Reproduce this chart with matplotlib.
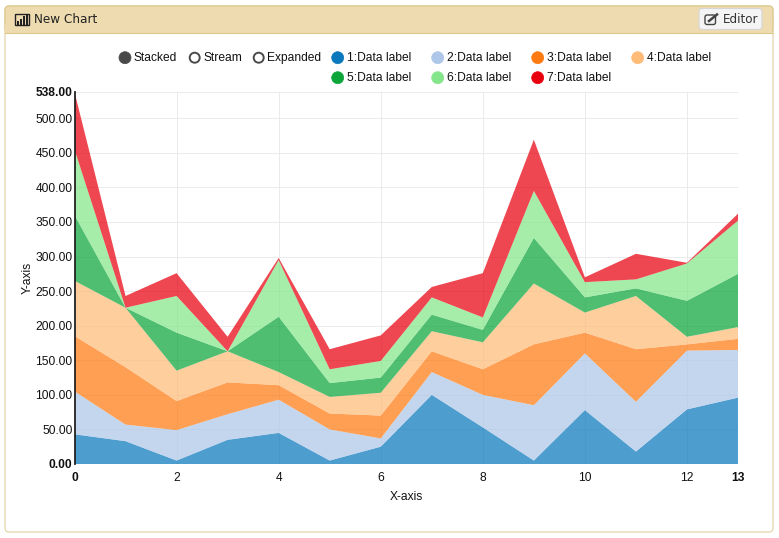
import matplotlib
matplotlib.use('Agg')
from matplotlib import pyplot as plt
from matplotlib.patches import Circle, FancyBboxPatch, Rectangle

W, H = 779, 538
PX = 0.72  # css px to pt at dpi 100

x_values = list(range(14))
series_1 = [43, 33, 5, 35, 45, 5, 25, 100, 53, 5, 78, 18, 79, 96]
series_2 = [62, 24, 44, 37, 48, 45, 12, 33, 47, 80, 82, 72, 85, 69]
series_3 = [80, 83, 42, 46, 21, 23, 33, 30, 37, 88, 30, 76, 9, 16]
series_4 = [80, 86, 44, 45, 19, 24, 33, 29, 39, 88, 29, 77, 11, 17]
series_5 = [95, 0, 55, 0, 80, 20, 22, 24, 18, 66, 22, 11, 52, 77]
series_6 = [95, 0, 53, 0, 82, 20, 24, 25, 18, 68, 22, 13, 54, 77]
series_7 = [83, 17, 33, 21, 3, 29, 37, 15, 64, 74, 7, 37, 1, 10]

labels = ['1:Data label', '2:Data label', '3:Data label', '4:Data label',
          '5:Data label', '6:Data label', '7:Data label']
colors = ['#0a78bd', '#aec7e8', '#ff7a10', '#ffbb78', '#0ca53a', '#84e68a', '#e8000f']
modes = ['Stacked', 'Stream', 'Expanded']

y_ticks = [0, 50, 100, 150, 200, 250, 300, 350, 400, 450, 500, 538]
x_ticks = [0, 2, 4, 6, 8, 10, 12, 13]
bold_y = [0, 538]
bold_x = [0, 13]

plt.rcParams['font.family'] = ['Liberation Sans', 'DejaVu Sans']
fig = plt.figure(figsize=(W / 100, H / 100), dpi=100, facecolor='white')

# page furniture, drawn in pixel coordinates
bg = fig.add_axes([0, 0, 1, 1], zorder=0)
bg.set_xlim(0, W)
bg.set_ylim(H, 0)
bg.axis('off')
bg.add_patch(FancyBboxPatch((5, 6), 768, 526, boxstyle='round,pad=0,rounding_size=4',
                            fc='white', ec='#ded2a2', lw=0.8))
bg.add_patch(FancyBboxPatch((5, 6), 768, 27, boxstyle='round,pad=0,rounding_size=4',
                            fc='#eedbb0', ec='#dcc888', lw=0.8))
bg.add_patch(Rectangle((5.5, 24), 767, 8.5, fc='#eedbb0', ec='none'))
bg.plot([5, 773], [32.5, 32.5], color='#dcc888', lw=0.8)

# chart icon
bg.add_patch(Rectangle((15.5, 14), 14, 10.5, fc='none', ec='#222222', lw=1.0))
for bx, bt in [(18, 20.5), (21, 18.5), (24, 16), (27, 15)]:
    bg.add_patch(Rectangle((bx - 0.5, bt), 1.6, 24.5 - bt, fc='#222222', ec='none'))
bg.text(34, 19.5, 'New Chart', fontsize=12 * PX, family='DejaVu Sans', color='#222222',
        ha='left', va='center')

# editor button
bg.add_patch(FancyBboxPatch((699, 8.5), 63, 21, boxstyle='round,pad=0,rounding_size=3',
                            fc='#f4f4f4', ec='#d5d5d5', lw=0.8))
bg.add_patch(FancyBboxPatch((705, 15), 10.5, 9.5, boxstyle='round,pad=0,rounding_size=2',
                            fc='none', ec='#444444', lw=1.0))
bg.plot([709, 717], [21, 14.5], color='#444444', lw=1.8)
bg.text(723, 19.5, 'Editor', fontsize=12 * PX, family='DejaVu Sans', color='#333333',
        ha='left', va='center')

# legend
for mx, tx, name, i in zip([125, 194.7, 258.7], [133.5, 203.5, 267], modes, range(3)):
    if i == 0:
        bg.add_patch(Circle((mx, 57.7), 6, fc='#4a4a4a', ec='#4a4a4a', lw=0.5))
    else:
        bg.add_patch(Circle((mx, 57.7), 5, fc='white', ec='#4a4a4a', lw=1.4))
    bg.text(tx, 57.7, name, fontsize=12 * PX, color='#111111', ha='left', va='center')
for i, (name, col) in enumerate(zip(labels, colors)):
    lx = 337.7 + 100 * (i % 4)
    ly = 57.7 + 20 * (i // 4)
    bg.add_patch(Circle((lx, ly), 6, fc=col, ec=col, lw=0.5))
    bg.text(lx + 9, ly, name, fontsize=12 * PX, color='#111111', ha='left', va='center')

# plot area: x 74.5-738, y 92-464 px
ax = fig.add_axes([74.5 / W, 1 - 464 / H, (738 - 74.5) / W, (464 - 92) / H], zorder=1)
ax.patch.set_alpha(0)
ax.stackplot(x_values, series_1, series_2, series_3, series_4, series_5, series_6, series_7,
             colors=colors, alpha=0.72, lw=0, zorder=2)
ax.set_xlim(0, 13)
ax.set_ylim(0, 538)
ax.set_xticks(x_ticks)
ax.set_yticks(y_ticks)
ax.set_xticklabels([str(v) for v in x_ticks])
ax.set_yticklabels(['%.2f' % v for v in y_ticks])
for t, v in zip(ax.get_yticklabels(), y_ticks):
    t.set_fontweight('bold' if v in bold_y else 'normal')
for t, v in zip(ax.get_xticklabels(), x_ticks):
    t.set_fontweight('bold' if v in bold_x else 'normal')
ax.tick_params(axis='both', length=0, labelsize=12 * PX, labelcolor='#111111')
ax.tick_params(axis='x', pad=5.5)
ax.tick_params(axis='y', pad=1.5)
ax.grid(True, color='#e8e8e8', lw=0.6, zorder=1)
ax.set_axisbelow(True)
for g, v in zip(ax.get_xgridlines(), x_ticks):
    g.set_visible(v not in (0, 13))
for side in ['top', 'right', 'bottom']:
    ax.spines[side].set_visible(False)
ax.spines['left'].set_color('#222222')
ax.spines['left'].set_linewidth(1.3)

ax.set_xlabel('X-axis', fontsize=12 * PX, color='#111111', labelpad=5.5)
bg.text(28, 278, 'Y-axis', fontsize=12 * PX, color='#111111', rotation=90,
        ha='center', va='center')

fig.savefig('out.png', dpi=100)
